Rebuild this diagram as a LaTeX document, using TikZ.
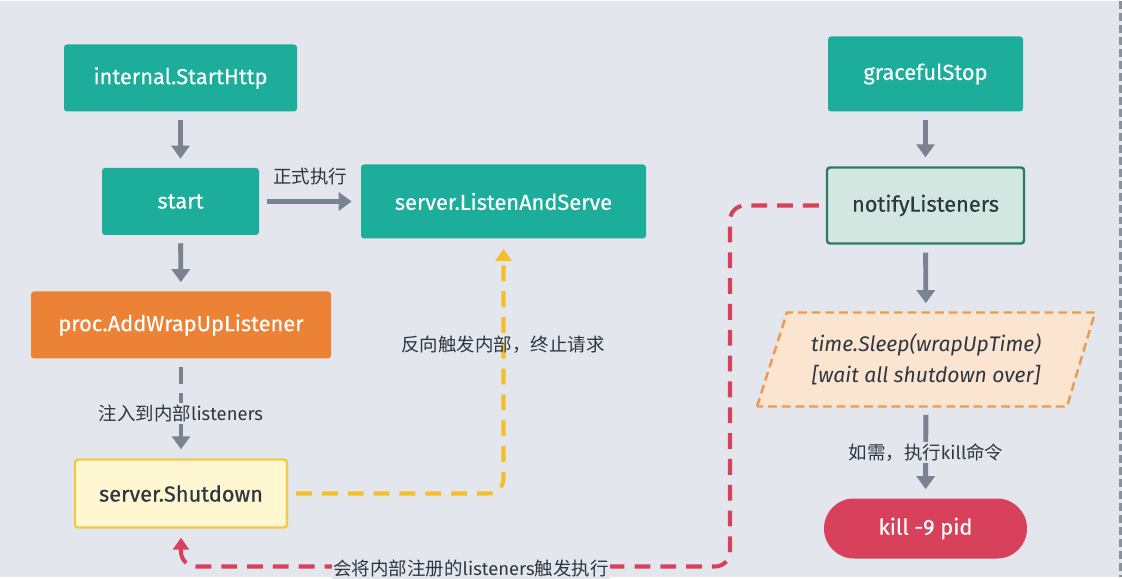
\documentclass[tikz,border=0pt]{standalone}
\usepackage{fontspec}
\setmainfont{Fira Sans}
\newfontfamily\boxface{Fira Sans}[FakeBold=0.4]
\newfontfamily\cjk{Noto Sans CJK SC}
\usetikzlibrary{positioning}
\usetikzlibrary{arrows.meta}
\usetikzlibrary{calc}

\definecolor{bgcol}{HTML}{E3E6EC}
\definecolor{tealcol}{HTML}{1DAE9B}
\definecolor{orangecol}{HTML}{EC8236}
\definecolor{killcol}{HTML}{D7415B}
\definecolor{yellowcol}{HTML}{F5BF2A}
\definecolor{shutfill}{HTML}{FFF7D1}
\definecolor{shutdraw}{HTML}{F3C84B}
\definecolor{notifyfill}{HTML}{D2E7E0}
\definecolor{notifydraw}{HTML}{2B7B62}
\definecolor{sleepfill}{HTML}{FBE5D1}
\definecolor{sleepdraw}{HTML}{EE9A4E}
\definecolor{arrowgray}{HTML}{7A8392}
\definecolor{textdark}{HTML}{2F3640}
\definecolor{edgegray}{HTML}{8C9098}

\newlength\pxu
\setlength\pxu{0.02cm}

\begin{document}
\begin{tikzpicture}[x=0.02cm, y=-0.02cm,
		box/.style={rounded corners=1.7pt, font=\boxface\fontsize{12.4}{15}\selectfont, inner sep=0pt},
		tealbox/.style={box, fill=tealcol, text=white},
		flow/.style={draw=arrowgray, line width=2.8pt, -{Triangle[width=10.2pt,length=7.4pt]}, shorten >=5.1pt, shorten <=4.5pt},
		lbl/.style={font=\fontsize{10.5}{13}\selectfont, text=textdark, inner sep=1pt},
		reddash/.style={draw=killcol, line width=2.3pt, dash pattern=on 9pt off 5.7pt, rounded corners=8.5pt},
		yellowdash/.style={draw=yellowcol, line width=2.3pt, dash pattern=on 9pt off 5.7pt, rounded corners=8.5pt}]
		% Define the background
		\fill[bgcol] (0,0) rectangle (1122,575);
		\draw[edgegray, line width=1.7pt, dash pattern=on 4.5pt off 2.3pt] (1120,0) -- (1120,575);

		% Define the nodes on the left
		\node[tealbox, minimum width=233\pxu, minimum height=67\pxu] (starthttp) at (180.5,76.5) {internal.StartHttp};
		\node[tealbox, minimum width=157\pxu, minimum height=67\pxu] (start) at (180.5,200) {start};
		\node[tealbox, minimum width=285\pxu, minimum height=74\pxu] (listen) at (503.5,200) {server.ListenAndServe};
		\node[box, fill=orangecol, text=white, minimum width=300\pxu, minimum height=67\pxu] (addwrap) at (181,323.5) {proc.AddWrapUpListener};
		\node[box, fill=shutfill, draw=shutdraw, line width=1.4pt, text=textdark, minimum width=212\pxu, minimum height=68\pxu] (shutdown) at (181,492) {server.Shutdown};

		% Define the nodes on the right
		\node[tealbox, minimum width=195\pxu, minimum height=75\pxu] (graceful) at (925.5,72.5) {gracefulStop};
		\node[box, fill=notifyfill, draw=notifydraw, line width=1.4pt, text=textdark, minimum width=197\pxu, minimum height=76\pxu] (notify) at (925.5,204) {notifyListeners};
		\fill[sleepfill] (757,405) -- (787,311) -- (1095,311) -- (1067,405) -- cycle;
		\draw[sleepdraw, line width=1.4pt, dash pattern=on 5pt off 2.8pt] (757,405) -- (787,311) -- (1095,311) -- (1067,405) -- cycle;
		\node[minimum width=300\pxu, minimum height=94\pxu, inner sep=0pt, align=center, text=textdark, font=\fontsize{12}{17.5}\selectfont\itshape] (sleep) at (926,358) {time.Sleep(wrapUpTime)\\{}[wait all shutdown over]};
		\node[box, rounded corners=17pt, fill=killcol, text=white, minimum width=203\pxu, minimum height=60\pxu] (kill) at (925.5,527) {kill -9 pid};

		% Draw the lines
		\draw[flow] (starthttp) -- (start);
		\draw[flow] (start) -- (listen);
		\draw[flow] (start) -- (addwrap);
		\draw[flow, dash pattern=on 10pt off 5pt] (addwrap) -- (shutdown);
		\draw[flow] (graceful) -- (notify);
		\draw[flow] (notify) -- (sleep);
		\draw[flow] (sleep) -- (kill);
		\draw[yellowdash, -{Triangle[width=9pt,length=6.8pt]}, shorten <=4.5pt, shorten >=5.7pt] (shutdown.east) -| (listen.south);
		\coordinate (rc1) at (730,204);
		\coordinate (rc2) at (730,565);
		\coordinate (rc3) at (181,565);
		\draw[reddash, -{Triangle[width=9pt,length=6.8pt]}, shorten <=4pt, shorten >=5.1pt] (notify.west) -- (rc1) -- (rc2) -- (rc3) -- (shutdown.south);

		% Draw the labels
		\node[lbl] (lblrun) at (310,175) {\cjk 正式执行};
		\node[lbl, fill=bgcol] (lblinject) at (181,412) {{\cjk 注入到内部}listeners};
		\node[lbl] (lblreverse) at (503,343) {\cjk 反向触发内部，终止请求};
		\node[lbl, fill=bgcol] (lbltrigger) at (471,567) {{\cjk 会将内部注册的}listeners{\cjk 触发执行}};
		\node[lbl, fill=bgcol] (lblkill) at (926,451) {{\cjk 如需，执行}kill{\cjk 命令}};
	\end{tikzpicture}
\end{document}
